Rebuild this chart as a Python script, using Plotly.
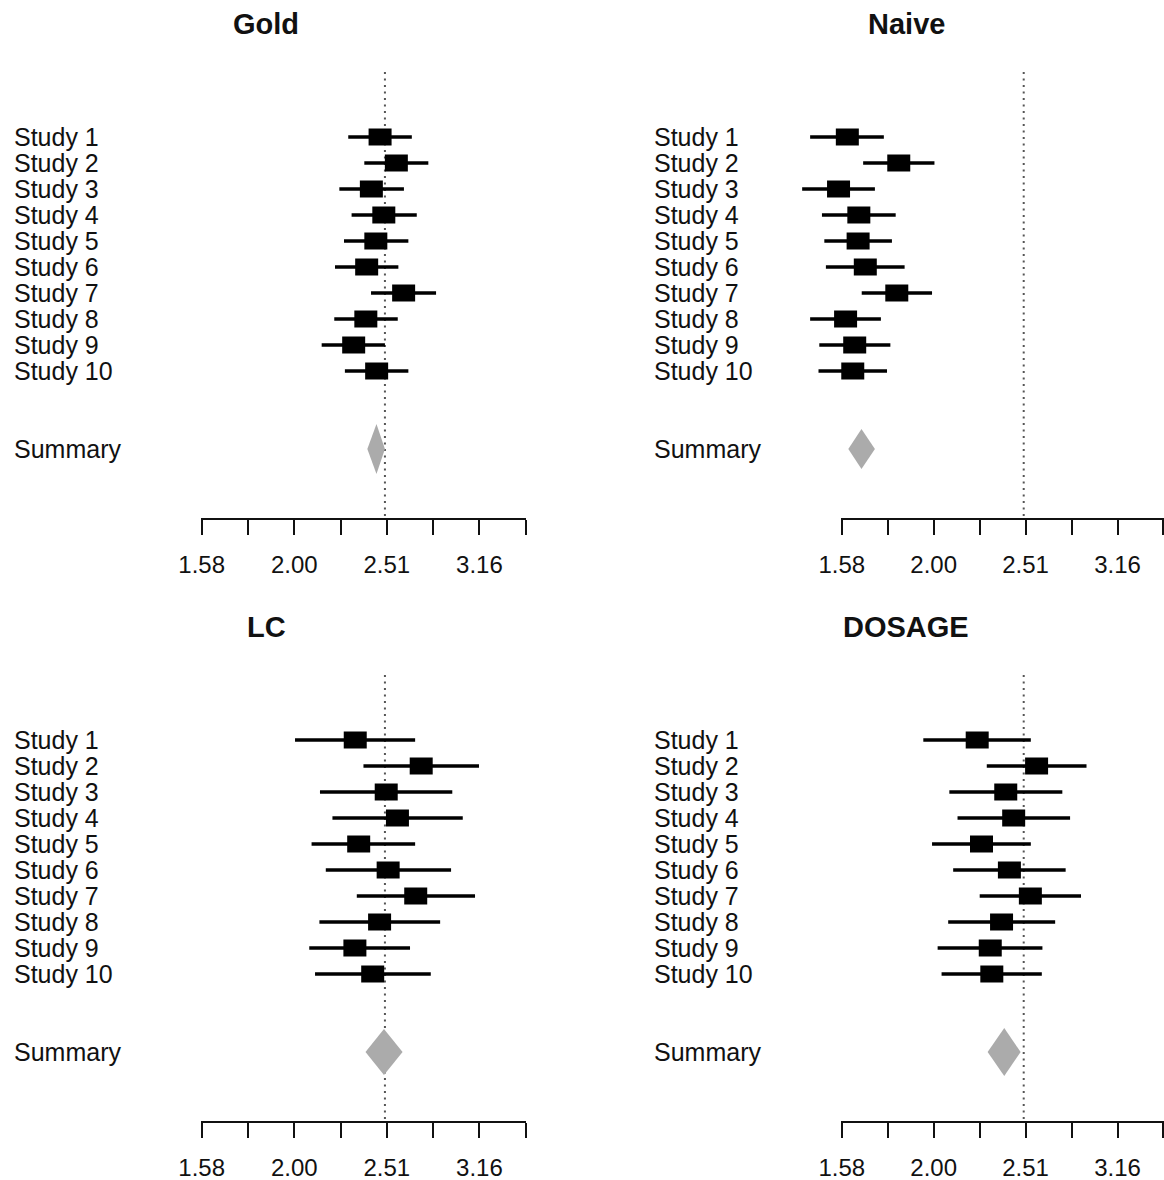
import plotly.graph_objects as go

# ---------------------------------------------------------------------------
# Data: study estimates with 95% confidence limits (ratio scale, log axis)
# ---------------------------------------------------------------------------
STUDY_LABELS = ["Study 1", "Study 2", "Study 3", "Study 4", "Study 5",
                "Study 6", "Study 7", "Study 8", "Study 9", "Study 10"]
SUMMARY_LABEL = "Summary"
PANEL_TITLES = ["Gold", "Naive", "LC", "DOSAGE"]

GOLD_EST = [2.470, 2.572, 2.417, 2.493, 2.444, 2.389, 2.619, 2.384, 2.313, 2.449]
GOLD_LO = [2.282, 2.375, 2.232, 2.301, 2.258, 2.208, 2.415, 2.204, 2.136, 2.263]
GOLD_HI = [2.673, 2.785, 2.621, 2.706, 2.650, 2.585, 2.839, 2.581, 2.500, 2.650]
GOLD_SUMMARY = [2.393, 2.448, 2.500]          # lower, estimate, upper

NAIVE_EST = [1.607, 1.828, 1.572, 1.654, 1.651, 1.681, 1.819, 1.600, 1.637, 1.629]
NAIVE_LO = [1.464, 1.672, 1.435, 1.508, 1.517, 1.523, 1.666, 1.464, 1.498, 1.495]
NAIVE_HI = [1.761, 1.999, 1.722, 1.814, 1.797, 1.855, 1.987, 1.748, 1.790, 1.775]
NAIVE_SUMMARY = [1.611, 1.665, 1.722]

LC_EST = [2.322, 2.736, 2.508, 2.579, 2.342, 2.520, 2.699, 2.467, 2.320, 2.425]
LC_LO = [1.999, 2.370, 2.127, 2.194, 2.083, 2.158, 2.331, 2.124, 2.071, 2.101]
LC_HI = [2.695, 3.159, 2.956, 3.034, 2.695, 2.947, 3.128, 2.868, 2.661, 2.802]
LC_SUMMARY = [2.382, 2.494, 2.612]

DOSAGE_EST = [2.225, 2.582, 2.390, 2.438, 2.249, 2.412, 2.542, 2.365, 2.299, 2.308]
DOSAGE_LO = [1.944, 2.279, 2.075, 2.118, 1.987, 2.095, 2.239, 2.069, 2.015, 2.035]
DOSAGE_HI = [2.545, 2.926, 2.754, 2.808, 2.545, 2.777, 2.886, 2.705, 2.620, 2.616]
DOSAGE_SUMMARY = [2.284, 2.381, 2.481]

REF_VALUE = 2.5
TICK_EXPONENTS = [0.20, 0.25, 0.30, 0.35, 0.40, 0.45, 0.50, 0.55]
TICK_TEXT = ["1.58", "", "2.00", "", "2.51", "", "3.16", ""]

# ---------------------------------------------------------------------------
# Layout geometry (pixels)
# ---------------------------------------------------------------------------
W, H = 1164, 1180
FONT = "Liberation Sans, Arial, Helvetica, sans-serif"
INK = "#111111"
ROW_STEP = 26.0
SUMMARY_ROW = 13
BOX_HALF_W_PX = 11.5
BOX_HALF_H_PX = 8.5

panels = [
    dict(title=PANEL_TITLES[0], est=GOLD_EST, lo=GOLD_LO, hi=GOLD_HI, summ=GOLD_SUMMARY,
         x_origin=201.7, scale=925.7, data_px=(140, 580), row1=137, title_x=266,
         label_x=12, diamond_half=0.96),
    dict(title=PANEL_TITLES[1], est=NAIVE_EST, lo=NAIVE_LO, hi=NAIVE_HI, summ=NAIVE_SUMMARY,
         x_origin=841.8, scale=919.0, data_px=(780, 1164), row1=137, title_x=906,
         label_x=652, diamond_half=0.77),
    dict(title=PANEL_TITLES[2], est=LC_EST, lo=LC_LO, hi=LC_HI, summ=LC_SUMMARY,
         x_origin=201.7, scale=925.7, data_px=(140, 580), row1=740, title_x=266,
         label_x=12, diamond_half=0.88),
    dict(title=PANEL_TITLES[3], est=DOSAGE_EST, lo=DOSAGE_LO, hi=DOSAGE_HI, summ=DOSAGE_SUMMARY,
         x_origin=841.8, scale=919.0, data_px=(780, 1164), row1=740, title_x=906,
         label_x=652, diamond_half=0.92),
]

fig = go.Figure()
layout = dict(
    width=W, height=H,
    margin=dict(l=0, r=0, t=0, b=0, autoexpand=False),
    paper_bgcolor="white", plot_bgcolor="rgba(0,0,0,0)",
    showlegend=False,
)
shapes = []
annotations = []


def px_to_log(p, origin, scale):
    return 0.2 + (p - origin) / scale


def suffix(n):
    return "" if n == 1 else str(n)


for i, pn in enumerate(panels, start=1):
    xa, ya, xv = f"x{suffix(i)}", f"y{suffix(i)}", f"x{i + 4}"
    origin, scale = pn["x_origin"], pn["scale"]

    # data x axis (hidden) and row axis
    d0, d1 = pn["data_px"]
    layout[f"xaxis{suffix(i)}"] = dict(
        type="log", domain=[d0 / W, d1 / W],
        range=[px_to_log(d0, origin, scale), px_to_log(d1, origin, scale)],
        visible=False, anchor=ya,
    )
    top_px, bot_px = pn["row1"] - 68, pn["row1"] + 379
    row_top = 1 + (top_px - pn["row1"]) / ROW_STEP
    row_bot = 1 + (bot_px - pn["row1"]) / ROW_STEP
    layout[f"yaxis{suffix(i)}"] = dict(
        domain=[1 - bot_px / H, 1 - top_px / H],
        range=[row_bot, row_top], visible=False, anchor=xa,
    )

    # visible scale along the bottom of each panel
    r0, r1 = 0.1995, 0.5506
    v0 = origin + (r0 - 0.2) * scale
    v1 = min(origin + (r1 - 0.2) * scale, W)
    r1 = px_to_log(v1, origin, scale)
    axis_px = pn["row1"] + 382
    layout[f"xaxis{i + 4}"] = dict(
        type="log", domain=[v0 / W, v1 / W], range=[r0, r1],
        anchor="free", position=1 - axis_px / H, side="bottom",
        tickmode="array", tickvals=[10 ** e for e in TICK_EXPONENTS], ticktext=TICK_TEXT,
        ticks="outside", ticklen=15, tickwidth=2, tickcolor=INK,
        showline=True, linewidth=2, linecolor=INK,
        showgrid=False, zeroline=False, ticklabelstandoff=9,
        tickfont=dict(family=FONT, size=24, color=INK),
    )
    fig.add_trace(go.Scatter(x=[], y=[], xaxis=xv, yaxis=ya, hoverinfo="skip"))

    rows = list(range(1, len(pn["est"]) + 1))

    # reference line at the true value
    shapes.append(dict(
        type="line", xref=xa, yref=f"{ya} domain", x0=REF_VALUE, x1=REF_VALUE, y0=0, y1=1,
        line=dict(color="#555555", width=2, dash="2px,4.5px"), layer="below",
    ))

    # confidence intervals
    cx, cy = [], []
    for r, lo, hi in zip(rows, pn["lo"], pn["hi"]):
        cx += [lo, hi, None]
        cy += [r, r, None]
    fig.add_trace(go.Scatter(x=cx, y=cy, mode="lines", xaxis=xa, yaxis=ya,
                             line=dict(color="black", width=3.5), hoverinfo="skip"))

    # point estimates as boxes of fixed on-screen size, centred on each estimate
    fx = 10 ** (BOX_HALF_W_PX / scale)
    dy = BOX_HALF_H_PX / ROW_STEP
    for r, est in zip(rows, pn["est"]):
        shapes.append(dict(
            type="rect", xref=xa, yref=ya,
            x0=est / fx, x1=est * fx, y0=r - dy, y1=r + dy,
            fillcolor="black", line=dict(width=0), layer="above",
        ))

    # pooled summary diamond
    slo, sest, shi = pn["summ"]
    h = pn["diamond_half"]
    fig.add_trace(go.Scatter(
        x=[slo, sest, shi, sest, slo],
        y=[SUMMARY_ROW, SUMMARY_ROW - h, SUMMARY_ROW, SUMMARY_ROW + h, SUMMARY_ROW],
        mode="lines", fill="toself", fillcolor="#ababab", line=dict(width=0, color="#ababab"),
        xaxis=xa, yaxis=ya, hoverinfo="skip",
    ))

    # row labels
    for r, lab in zip(rows, STUDY_LABELS):
        annotations.append(dict(
            text=lab, xref="paper", yref=ya, x=pn["label_x"] / W, y=r,
            xanchor="left", yanchor="middle", showarrow=False,
            font=dict(family=FONT, size=25, color=INK),
        ))
    annotations.append(dict(
        text=SUMMARY_LABEL, xref="paper", yref=ya, x=pn["label_x"] / W, y=SUMMARY_ROW,
        xanchor="left", yanchor="middle", showarrow=False,
        font=dict(family=FONT, size=25, color=INK),
    ))

    # panel title
    annotations.append(dict(
        text=f"<b>{pn['title']}</b>", xref="paper", yref="paper",
        x=pn["title_x"] / W, y=1 - (pn["row1"] - 113) / H,
        xanchor="center", yanchor="middle", showarrow=False,
        font=dict(family=FONT, size=29, color=INK),
    ))

layout["shapes"] = shapes
layout["annotations"] = annotations
fig.update_layout(**layout)
fig.write_html("out.html")
